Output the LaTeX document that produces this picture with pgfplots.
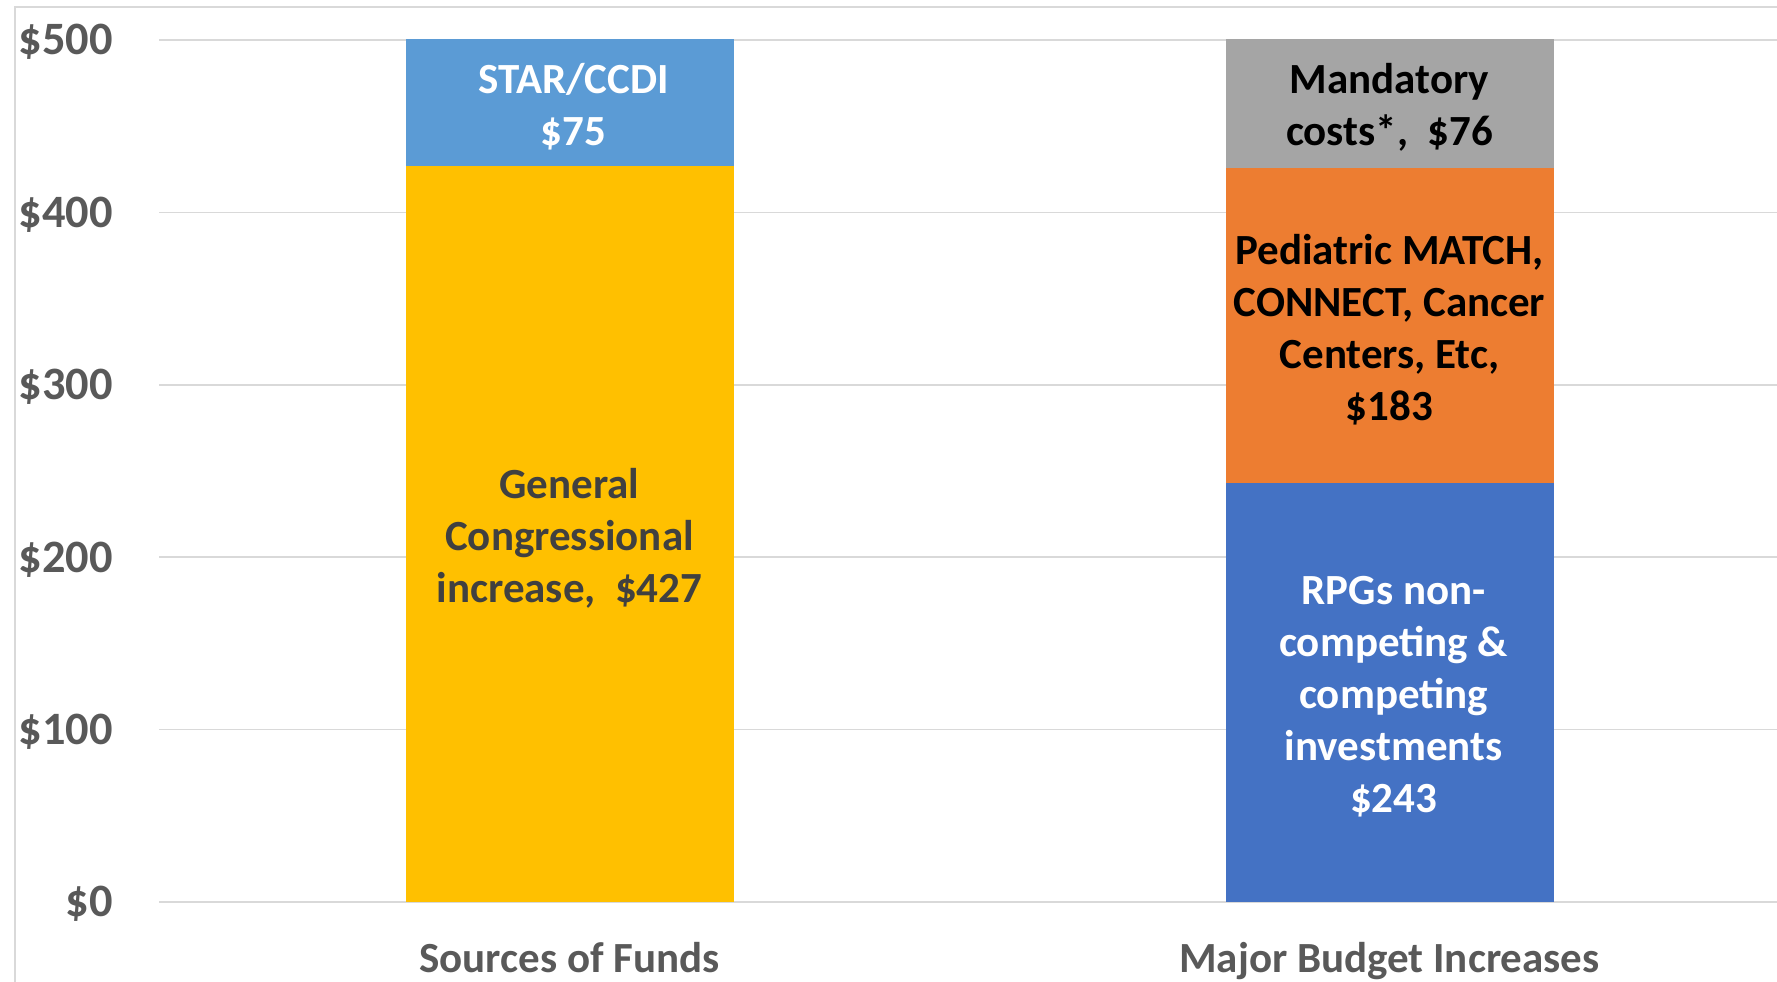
\documentclass[border=0pt]{standalone}
\usepackage{fontspec}
\setmainfont{Carlito}
\usepackage{pgfplots}
\pgfplotsset{compat=1.18}
\definecolor{cgold}{HTML}{FFC000}
\definecolor{clblue}{HTML}{5B9BD5}
\definecolor{cgray}{HTML}{A5A5A5}
\definecolor{corange}{HTML}{ED7D31}
\definecolor{cblue}{HTML}{4472C4}
\definecolor{gridc}{HTML}{D9D9D9}
\definecolor{tickc}{HTML}{595959}
\definecolor{darktext}{HTML}{404040}
\begin{document}
\begin{tikzpicture}
\path[use as bounding box] (-79.75pt,-39.5pt) rectangle (808.75pt,451pt);
\draw[color=gridc, line width=1pt] (-72.25pt,-45pt) -- (-72.25pt,447.5pt) -- (815pt,447.5pt);
\begin{axis}[
  at={(0pt,0pt)}, anchor=south west,
  scale only axis, width=820pt, height=431pt,
  xmin=-0.5, xmax=1.5, ymin=0, ymax=500,
  ybar stacked, bar width=0.4,
  xtick={0,1}, xticklabels={Sources of Funds, Major Budget Increases},
  ytick={0,100,200,300,400,500},
  /pgf/number format/assume math mode=true,
  yticklabel={\$\pgfmathprintnumber{\tick}},
  ymajorgrids, grid style={color=gridc, line width=0.75pt},
  axis line style={draw=none}, major tick length=0pt,
  ticklabel style={text=tickc},
  yticklabel style={font=\bfseries\fontsize{23.2}{28}\selectfont, anchor=base east, inner sep=0pt, xshift=-23.25pt, yshift=-7.4pt},
  xticklabel style={font=\bfseries\fontsize{21.5}{26}\selectfont, anchor=base, inner sep=0pt, yshift=-35pt},
]
\addplot[fill=cgold, draw=none] coordinates {(0,427) (1,0)};
\addplot[fill=clblue, draw=none] coordinates {(0,75) (1,0)};
\addplot[fill=cblue, draw=none] coordinates {(0,0) (1,243)};
\addplot[fill=corange, draw=none] coordinates {(0,0) (1,183)};
\addplot[fill=cgray, draw=none] coordinates {(0,0) (1,76)};
\coordinate (la) at (axis cs:0.005,463.5);
\coordinate (lb) at (axis cs:0,213);
\coordinate (lc) at (axis cs:1,463);
\coordinate (ld) at (axis cs:1,334);
\coordinate (le) at (axis cs:1.005,121);
\end{axis}
\begin{scope}[every node/.style={align=center, yshift=-1.7pt, font=\bfseries\fontsize{21.5}{26}\selectfont}]
\node[text=white] at (la) {STAR/CCDI\\\$75};
\node[text=darktext] at (lb) {General\\Congressional\\increase,\ \ \$427};
\node[text=black] at (lc) {Mandatory\\costs*,\ \ \$76};
\node[text=black] at (ld) {Pediatric MATCH,\\CONNECT, Cancer\\Centers, Etc,\\\$183};
\node[text=white] at (le) {RPGs non-\\competing \&\\competing\\investments\\\$243};
\end{scope}
\end{tikzpicture}
\end{document}
